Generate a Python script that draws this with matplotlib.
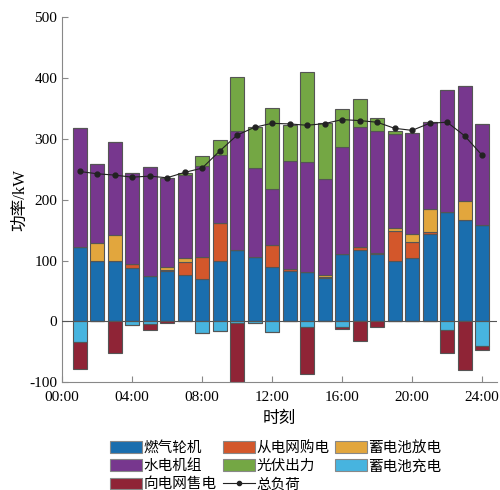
import numpy as np
import matplotlib.pyplot as plt
from matplotlib.patches import Patch
from matplotlib.lines import Line2D

plt.rcParams['font.family'] = ['Liberation Serif', 'Noto Sans CJK SC']
plt.rcParams['axes.unicode_minus'] = False

hours = np.arange(1, 25)

# 各时段出力 (kW)
gas = [123, 100, 100, 87, 75, 83, 77, 69, 100, 118, 106.5, 90,
       82.5, 81.4, 71.5, 111.4, 118, 111, 100, 104.3, 143, 179.7, 167.2, 159]
grid_buy = [0, 0, 0, 8, 0, 2, 20, 37.5, 61, 0, 0, 35.6,
            3.8, 0, 2, 0, 3.8, 2, 49, 26.7, 3.8, 0, 0, 0]
discharge = [0, 28.4, 42, 0, 0, 4, 7, 0, 0, 0, 0, 0,
             0, 0, 2.7, 0, 0, 0, 4, 12.6, 37.7, 0, 31.2, 0]
hydro = [194, 129.6, 152.5, 148.7, 178.5, 147, 137.2, 149.2, 112.8, 195, 146, 91.4,
         176.5, 180.3, 158, 174.9, 197.9, 199.6, 155.2, 166.3, 143.3, 200, 189, 165]
pv = [0, 0, 0, 0, 0, 0, 3.3, 15.3, 25.1, 89, 66.5, 134.4,
      59.5, 147.5, 91.8, 62.9, 45.9, 21.9, 4.9, 0, 0, 0, 0, 0]
charge = [34.5, 0, 0, 6.6, 4.9, 0, 0, 18.6, 15.4, 3.3, 2.7, 17,
          0, 9.9, 0, 9.9, 0, 0, 0, 0, 0, 14.3, 0, 41]
grid_sell = [44.2, 0, 51.5, 0, 8.9, 2.8, 0, 0, 0, 96.7, 0, 0,
             0, 77, 0, 2.7, 32, 9, 0, 0, 0, 38.5, 79.3, 5.3]
load = [246.4, 242.6, 240.4, 237, 238.7, 236, 244.8, 251.8, 279.7, 306, 319, 325.5,
        324.5, 322.3, 325, 331.6, 330, 327.3, 317.3, 313.9, 325.6, 327.3, 305, 273]

colors = {
    'gas': '#1a6eae', 'buy': '#d3572b', 'dis': '#e2a63d', 'hydro': '#77378e',
    'pv': '#74a744', 'chg': '#47b4df', 'sell': '#8f2436',
}
edge = dict(edgecolor='#555555', linewidth=0.8, width=0.8)

fig = plt.figure(figsize=(5, 4.9), dpi=100)
ax = fig.add_axes([0.124, 0.22, 0.87, 0.745])

# 正向出力堆叠
bottom = np.zeros(24)
for vals, key in [(gas, 'gas'), (grid_buy, 'buy'), (discharge, 'dis'),
                  (hydro, 'hydro'), (pv, 'pv')]:
    v = np.array(vals)
    ax.bar(hours, v, bottom=bottom, color=colors[key], **edge)
    bottom += v

# 负向：充电与售电
neg = np.zeros(24)
for vals, key in [(charge, 'chg'), (grid_sell, 'sell')]:
    v = -np.array(vals)
    ax.bar(hours, v, bottom=neg, color=colors[key], **edge)
    neg += v

ax.axhline(0, color='#555555', lw=0.8, zorder=3)
ax.plot(hours, load, color='#222222', lw=0.8, marker='o', markersize=3.5, zorder=4)

ax.set_xlim(0, 24.85)
ax.set_ylim(-100, 500)
ax.set_xticks(range(0, 25, 4))
ax.set_xticklabels(['%02d:00' % h for h in range(0, 25, 4)])
ax.set_yticks(range(-100, 501, 100))
ax.tick_params(direction='in', labelsize=11, length=4, color='#888888')
ax.tick_params(axis='x', pad=6)
for s in ['top', 'right']:
    ax.spines[s].set_visible(False)
for s in ['left', 'bottom']:
    ax.spines[s].set_color('#888888')

ax.set_xlabel('时刻', fontsize=12, labelpad=5)
ax.set_ylabel('功率/kW', fontsize=12, labelpad=1)

def box(c):
    return Patch(facecolor=c, edgecolor='#888888', linewidth=0.8)

handles = [box(colors['gas']), box(colors['hydro']), box(colors['sell']),
           box(colors['buy']), box(colors['pv']),
           Line2D([], [], color='#222222', lw=0.8, marker='o', markersize=3),
           box(colors['dis']), box(colors['chg'])]
labels = ['燃气轮机', '水电机组', '向电网售电', '从电网购电', '光伏出力', '总负荷',
          '蓄电池放电', '蓄电池充电']
fig.legend(handles, labels, ncol=3, loc='upper left', bbox_to_anchor=(0.22, 0.1),
           frameon=False, fontsize=10.5, handlelength=2.2, handleheight=0.85,
           handletextpad=0.1, columnspacing=0.4, labelspacing=0.3, borderpad=0,
           borderaxespad=0)

fig.savefig('out.png', dpi=100)
